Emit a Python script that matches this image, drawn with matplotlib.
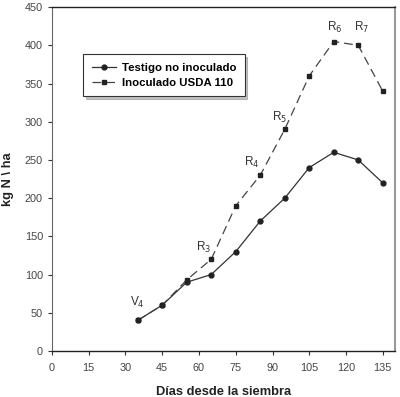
import matplotlib
matplotlib.use("Agg")
import matplotlib.pyplot as plt

dias = [35, 45, 55, 65, 75, 85, 95, 105, 115, 125, 135]
testigo = [40, 60, 90, 100, 130, 170, 200, 240, 260, 250, 220]
inoculado = [40, 60, 93, 120, 190, 230, 290, 360, 405, 400, 340]
estadios = ["V$_4$", "R$_3$", "R$_4$", "R$_5$", "R$_6$", "R$_7$"]
estadio_x = [35, 62, 81.5, 93, 115.5, 126.5]
estadio_y = [63, 136, 247, 306, 424, 423]
xticks = [0, 15, 30, 45, 60, 75, 90, 105, 120, 135]
yticks = [0, 50, 100, 150, 200, 250, 300, 350, 400, 450]

plt.rcParams['font.family'] = ['Liberation Sans', 'DejaVu Sans']

fig = plt.figure(figsize=(4.0, 3.97), dpi=100)
ax = fig.add_axes([0.13, 0.116, 0.8575, 0.866])

ax.plot(dias, testigo, '-', color='#333333', lw=0.9, marker='o', ms=3.5,
        mfc='#222222', mec='#222222', label='Testigo no inoculado')
ax.plot(dias, inoculado, '-', color='#444444', lw=0.9, dashes=(7, 4), marker='s', ms=3.5,
        mfc='#222222', mec='#222222', label='Inoculado USDA 110')

for t, x, y in zip(estadios, estadio_x, estadio_y):
    ax.text(x, y, t, ha='center', va='center', fontsize=8.5, color='#333333')

ax.set_xlim(0, 140)
ax.set_ylim(0, 450)
ax.set_xticks(xticks)
ax.set_yticks(yticks)
ax.tick_params(direction='out', length=3, width=0.8, labelsize=7.8,
               colors='#333333', labelcolor='#444444')
ax.tick_params(axis='x', pad=6)
for s in ['top', 'bottom']:
    ax.spines[s].set_color('#222222')
    ax.spines[s].set_linewidth(1.0)
ax.spines['left'].set_color('#666666')
ax.spines['left'].set_linestyle((0, (1, 1)))
ax.spines['right'].set_color('#999999')
ax.spines['right'].set_linewidth(1.5)
ax.spines['right'].set_linestyle((0, (1, 1)))

ax.set_xlabel('Días desde la siembra', fontsize=9.3, fontweight='bold', labelpad=9, color='#222222')
ax.set_ylabel('kg N \\ ha', fontsize=9.3, fontweight='bold', labelpad=8, color='#222222')

leg = ax.legend(loc='upper left', bbox_to_anchor=(0.075, 0.88), fancybox=False,
                shadow={'color': '#888888'},
                handlelength=2.1, handletextpad=0.5, borderpad=0.75, labelspacing=0.45,
                prop={'weight': 'bold', 'size': 8.2})
leg.get_frame().set_edgecolor('#333333')
leg.get_frame().set_linewidth(0.8)

fig.savefig('out.png', dpi=100)
